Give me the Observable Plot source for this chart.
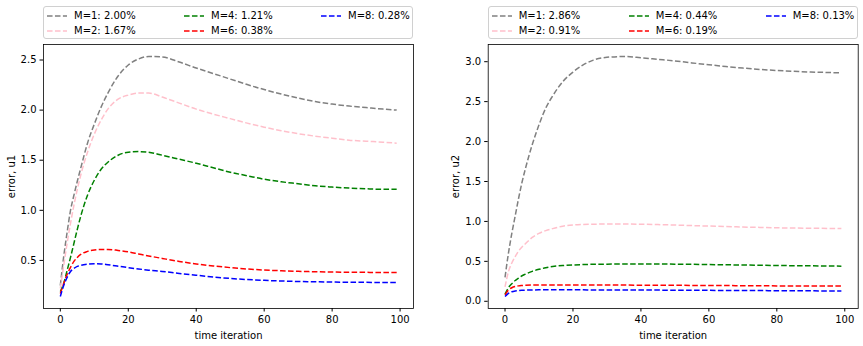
<!DOCTYPE html>
<html>
<head>
<meta charset="utf-8">
<script src="https://cdn.jsdelivr.net/npm/d3@7"></script>
<script src="https://cdn.jsdelivr.net/npm/@observablehq/plot@0.6"></script>
<style>
  html, body { margin: 0; padding: 0; background: #fff; }
  #fig { position: relative; width: 863px; height: 346px; font-family: "DejaVu Sans", sans-serif; font-size: 10px; color: #000; }
  .panel { position: absolute; top: 0; }
  .legend { position: absolute; top: 6px; height: 33px; box-sizing: border-box; border: 1px solid #d0d0d0; border-radius: 3px; background: #fff; }
  .item { position: absolute; height: 12px; line-height: 12px; white-space: nowrap; }
  .item svg { position: absolute; left: 0; top: 0; }
  .item span { position: absolute; left: 27px; top: 0; }
</style>
</head>
<body>
<div id="fig"></div>
<script>
// time iterations at which values were read
const t = [0,1,2,3,4,5,6,8,10,12,14,17,20,23,26,30,35,40,45,50,55,60,65,70,75,80,85,90,95,99];

// left panel: error, u1
const u1_M1 = [0.25,0.54,0.78,1.00,1.15,1.29,1.42,1.67,1.86,2.03,2.17,2.34,2.45,2.51,2.535,2.53,2.48,2.42,2.365,2.31,2.255,2.205,2.16,2.12,2.085,2.06,2.04,2.025,2.01,2.00];
const u1_M2 = [0.22,0.45,0.67,0.87,1.05,1.21,1.35,1.58,1.76,1.90,2.01,2.11,2.15,2.17,2.17,2.13,2.07,2.01,1.96,1.915,1.87,1.83,1.795,1.765,1.74,1.72,1.70,1.69,1.68,1.67];
const u1_M4 = [0.19,0.27,0.40,0.53,0.67,0.81,0.94,1.15,1.30,1.41,1.48,1.55,1.58,1.586,1.58,1.55,1.51,1.47,1.425,1.38,1.345,1.31,1.285,1.265,1.245,1.232,1.222,1.215,1.21,1.21];
const u1_M6 = [0.17,0.27,0.36,0.43,0.49,0.53,0.56,0.59,0.605,0.61,0.61,0.60,0.585,0.565,0.545,0.52,0.49,0.465,0.445,0.428,0.414,0.404,0.397,0.391,0.387,0.384,0.382,0.381,0.38,0.38];
const u1_M8 = [0.14,0.25,0.33,0.39,0.42,0.44,0.45,0.462,0.467,0.465,0.457,0.443,0.428,0.415,0.403,0.39,0.37,0.352,0.335,0.32,0.309,0.301,0.295,0.29,0.287,0.284,0.282,0.281,0.28,0.28];

// right panel: error, u2
const u2_M1 = [0.30,0.60,0.85,1.07,1.29,1.49,1.66,1.96,2.21,2.42,2.57,2.75,2.87,2.96,3.02,3.055,3.065,3.05,3.03,3.01,2.985,2.962,2.94,2.92,2.903,2.89,2.88,2.87,2.865,2.86];
const u2_M2 = [0.18,0.37,0.48,0.56,0.63,0.68,0.72,0.80,0.85,0.885,0.91,0.94,0.955,0.962,0.965,0.967,0.967,0.965,0.96,0.955,0.948,0.942,0.936,0.93,0.925,0.92,0.917,0.915,0.912,0.91];
const u2_M4 = [0.09,0.17,0.22,0.26,0.29,0.32,0.34,0.375,0.40,0.42,0.435,0.448,0.455,0.46,0.463,0.465,0.467,0.467,0.466,0.465,0.463,0.46,0.457,0.454,0.451,0.448,0.446,0.444,0.442,0.44];
const u2_M6 = [0.08,0.14,0.17,0.185,0.193,0.197,0.20,0.203,0.204,0.205,0.205,0.205,0.205,0.205,0.204,0.204,0.203,0.202,0.201,0.20,0.199,0.198,0.197,0.195,0.194,0.193,0.192,0.191,0.19,0.19];
const u2_M8 = [0.06,0.10,0.12,0.13,0.135,0.138,0.14,0.142,0.143,0.143,0.143,0.143,0.143,0.143,0.142,0.142,0.142,0.141,0.14,0.139,0.138,0.137,0.136,0.135,0.134,0.133,0.132,0.131,0.13,0.13];

const legendLeft = ["M=1: 2.00%","M=2: 1.67%","M=4: 1.21%","M=6: 0.38%","M=8: 0.28%"];
const legendRight = ["M=1: 2.86%","M=2: 0.91%","M=4: 0.44%","M=6: 0.19%","M=8: 0.13%"];
const colors = ["gray","pink","green","red","blue"];

const xTicks = [0,20,40,60,80,100];
const yTicksLeft = [0.5,1.0,1.5,2.0,2.5];
const yTicksRight = [0.0,0.5,1.0,1.5,2.0,2.5,3.0];

const DASH = "5.55 2.4";

function rows(seriesList, labels) {
  const out = [];
  seriesList.forEach((vals, i) => vals.forEach((v, j) => out.push({t: t[j], v, s: labels[i]})));
  return out;
}
function padDomain(ext) {
  const m = (ext[1] - ext[0]) * 0.05;
  return [ext[0] - m, ext[1] + m];
}

function panel({data, labels, yTicks, ylabel, left, width, ml, mr}) {
  const xDom = padDomain(d3.extent(t));
  const yDom = padDomain(d3.extent(data, d => d.v));
  const svg = Plot.plot({
    width, height: 346,
    marginLeft: ml, marginRight: mr, marginTop: 44, marginBottom: 38,
    style: {fontFamily: "DejaVu Sans", fontSize: "10px", color: "#000", background: "transparent", overflow: "visible"},
    x: {domain: xDom},
    y: {domain: yDom},
    color: {domain: labels, range: colors},
    marks: [
      Plot.line(data, {x: "t", y: "v", z: "s", stroke: "s", strokeWidth: 1.5, strokeDasharray: DASH, strokeLinecap: "butt", curve: "monotone-x"}),
      Plot.frame({stroke: "#000", strokeWidth: 0.8}),
      Plot.axisX({ticks: xTicks, tickSize: 3.5, tickPadding: 3.5, tickFormat: d => String(d), label: "time iteration", labelAnchor: "center", labelOffset: 30, labelArrow: "none", fontSize: 10}),
      Plot.axisY({ticks: yTicks, tickSize: 3.5, tickPadding: 3.5, tickFormat: d3.format(".1f"), label: ylabel, labelAnchor: "center", labelOffset: 36, labelArrow: "none", fontSize: 10})
    ]
  });
  svg.classList.add("panel");
  svg.style.left = left + "px";
  return svg;
}

function legend(labels, left, width) {
  const box = document.createElement("div");
  box.className = "legend";
  box.style.left = left + "px";
  box.style.width = width + "px";
  const colX = [3, 140, 277];
  const rowY = [3, 18];
  labels.forEach((lab, i) => {
    const c = Math.floor(i / 2), r = i % 2;
    const it = document.createElement("div");
    it.className = "item";
    it.style.left = colX[c] + "px";
    it.style.top = rowY[r] + "px";
    it.innerHTML = `<svg width="20" height="12"><line x1="0" x2="20" y1="6" y2="6" stroke="${colors[i]}" stroke-width="1.5" stroke-dasharray="${DASH}"/></svg><span>${lab}</span>`;
    box.appendChild(it);
  });
  return box;
}

const fig = document.getElementById("fig");
fig.appendChild(panel({data: rows([u1_M1,u1_M2,u1_M4,u1_M6,u1_M8], legendLeft), labels: legendLeft, yTicks: yTicksLeft, ylabel: "error, u1", left: 0, width: 431, ml: 43, mr: 18}));
fig.appendChild(panel({data: rows([u2_M1,u2_M2,u2_M4,u2_M6,u2_M8], legendRight), labels: legendRight, yTicks: yTicksRight, ylabel: "error, u2", left: 431, width: 432, ml: 56.7, mr: 5.3}));
fig.appendChild(legend(legendLeft, 43, 370));
fig.appendChild(legend(legendRight, 487.7, 370));
</script>
</body>
</html>
